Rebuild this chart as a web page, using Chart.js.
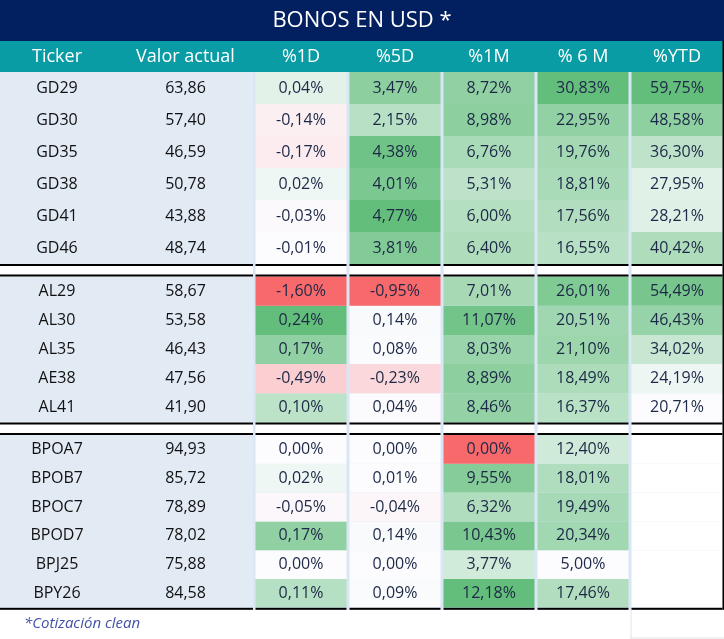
<!DOCTYPE html>
<html>
<head>
<meta charset="utf-8">
<script src="https://cdn.jsdelivr.net/npm/chart.js@4.4.1/dist/chart.umd.min.js"></script>
<style>
  html, body { margin: 0; padding: 0; background: #fff; }
</style>
</head>
<body>
<canvas id="bonds-table" width="724" height="639"></canvas>
<script>
const columns = ['%1D', '%5D', '%1M', '% 6 M', '%YTD'];
const groupSizes = [6, 5, 6];
const tickers = ['GD29', 'GD30', 'GD35', 'GD38', 'GD41', 'GD46',
                 'AL29', 'AL30', 'AL35', 'AE38', 'AL41',
                 'BPOA7', 'BPOB7', 'BPOC7', 'BPOD7', 'BPJ25', 'BPY26'];
const prices = [63.86, 57.40, 46.59, 50.78, 43.88, 48.74,
                58.67, 53.58, 46.43, 47.56, 41.90,
                94.93, 85.72, 78.89, 78.02, 75.88, 84.58];
const chg1D = [0.04, -0.14, -0.17, 0.02, -0.03, -0.01,
               -1.60, 0.24, 0.17, -0.49, 0.10,
               0.00, 0.02, -0.05, 0.17, 0.00, 0.11];
const chg5D = [3.47, 2.15, 4.38, 4.01, 4.77, 3.81,
               -0.95, 0.14, 0.08, -0.23, 0.04,
               0.00, 0.01, -0.04, 0.14, 0.00, 0.09];
const chg1M = [8.72, 8.98, 6.76, 5.31, 6.00, 6.40,
               7.01, 11.07, 8.03, 8.89, 8.46,
               0.00, 9.55, 6.32, 10.43, 3.77, 12.18];
const chg6M = [30.83, 22.95, 19.76, 18.81, 17.56, 16.55,
               26.01, 20.51, 21.10, 18.49, 16.37,
               12.40, 18.01, 19.49, 20.34, 5.00, 17.46];
const chgYTD = [59.75, 48.58, 36.30, 27.95, 28.21, 40.42,
                54.49, 46.43, 34.02, 24.19, 20.71,
                null, null, null, null, null, null];

const series = [chg1D, chg5D, chg1M, chg6M, chgYTD];

// layout (px)
const FONT = "'Open Sans', sans-serif";
const TITLE_H = 41;
const HEADER_H = 31;
const ROW_H = [32, 29.2, 28.8];
const GROUP_GAP = 12.5;
const TICKER_W = 117;
const LEFT_W = 254;
const NAVY = '#021f5f';
const TEAL = '#0a9ca4';
const LEFT_BG = '#e2eaf4';
const STRIP = '#d9e6f5';
const TXT = '#1c2846';

// colour scale like the spreadsheet: red - white - green (null mid = white at min)
const scaleMid = [0, 0, 0.5, null, null];
const WHITE = [252, 252, 255], RED = [248, 105, 107], GREEN = [99, 190, 123];

function cellColor(values, v, mid) {
  const nums = values.filter(x => x !== null);
  const min = Math.min(...nums), max = Math.max(...nums);
  if (mid === null) mid = min;
  let t, to;
  if (v < mid) { t = (mid - v) / (mid - min); to = RED; }
  else { t = max === mid ? 0 : (v - mid) / (max - mid); to = GREEN; }
  const c = WHITE.map((w, i) => Math.round(w + (to[i] - w) * t));
  return `rgb(${c[0]},${c[1]},${c[2]})`;
}

// row extents on the y scale
const rowSpans = [];
const groupSpans = [];
let yPos = 0;
groupSizes.forEach((n, g) => {
  if (g > 0) yPos += GROUP_GAP;
  const start = yPos;
  for (let i = 0; i < n; i++) {
    rowSpans.push([yPos, yPos + ROW_H[g]]);
    yPos += ROW_H[g];
  }
  groupSpans.push([start, yPos]);
});
const TOTAL = yPos;

const fmt = v => v.toFixed(2).replace('.', ',');

const datasets = tickers.map((t, r) => ({
  label: t,
  data: series.map(() => rowSpans[r]),
  backgroundColor: series.map((s, c) => s[r] === null ? '#ffffff' : cellColor(s, s[r], scaleMid[c])),
  grouped: false,
  barPercentage: 0.968,
  categoryPercentage: 1,
  borderWidth: 0,
  borderSkipped: false
}));

const tableDecor = {
  id: 'tableDecor',
  beforeDraw(chart) {
    const { ctx, chartArea: a, scales: { x, y } } = chart;
    ctx.save();
    ctx.fillStyle = '#ffffff';
    ctx.fillRect(0, 0, chart.width, chart.height);
    ctx.fillStyle = NAVY;
    ctx.fillRect(0, 0, chart.width, chart.titleBlock.bottom);
    ctx.fillStyle = TEAL;
    ctx.fillRect(0, x.top, chart.width, x.bottom - x.top);
    // light strips between columns
    ctx.fillStyle = STRIP;
    ctx.fillRect(a.left - 1, a.top, a.right - a.left + 1, y.getPixelForValue(TOTAL) + 2 - a.top);
    const half = x.width / columns.length * 0.968 / 2;
    // white cells inside the gaps between groups
    ctx.fillStyle = '#ffffff';
    for (let g = 1; g < groupSpans.length; g++) {
      const top = y.getPixelForValue(groupSpans[g - 1][1]);
      const bot = y.getPixelForValue(groupSpans[g][0]);
      columns.forEach((c, i) => {
        const cx = x.getPixelForValue(i);
        ctx.fillRect(cx - half, top, half * 2, bot - top);
      });
    }
    // ticker / value block
    ctx.fillStyle = LEFT_BG;
    groupSpans.forEach(([s, e]) => {
      const top = y.getPixelForValue(s), bot = y.getPixelForValue(e);
      ctx.fillRect(0, top, a.left - 1, bot - top);
    });
    ctx.restore();
  },
  afterDatasetsDraw(chart) {
    const { ctx, chartArea: a, scales: { x, y } } = chart;
    const half = x.width / columns.length * 0.968 / 2;
    ctx.save();
    // black rules around the groups
    ctx.fillStyle = '#000000';
    const rule = yy => {
      ctx.fillRect(0, yy, a.left - 1, 2);
      columns.forEach((c, i) => {
        const cx = x.getPixelForValue(i);
        ctx.fillRect(cx - half, yy, half * 2, 2);
      });
    };
    groupSpans.forEach(([s, e], g) => {
      if (g > 0) rule(y.getPixelForValue(s) - 2);
      rule(y.getPixelForValue(e));
    });
    ctx.fillRect(chart.width - 1.5, x.top, 1.5, y.getPixelForValue(TOTAL) + 2 - x.top);

    // header texts for left columns
    ctx.fillStyle = '#ffffff';
    ctx.font = `18px ${FONT}`;
    ctx.textAlign = 'center';
    ctx.textBaseline = 'middle';
    const hy = x.bottom - 4.5 - 10.8;
    ctx.fillText('Ticker', TICKER_W / 2 - 1.5, hy);
    ctx.fillText('Valor actual', (TICKER_W + a.left) / 2, hy);

    // body texts
    ctx.font = `16px ${FONT}`;
    tickers.forEach((t, r) => {
      const cy = y.getPixelForValue((rowSpans[r][0] + rowSpans[r][1]) / 2);
      ctx.fillStyle = '#111111';
      ctx.fillText(t, TICKER_W / 2 - 1.5, cy);
      ctx.fillText(fmt(prices[r]), (TICKER_W + a.left) / 2, cy);
      ctx.fillStyle = TXT;
      const meta = chart.getDatasetMeta(r);
      series.forEach((s, c) => {
        if (s[r] === null) return;
        const el = meta.data[c];
        ctx.fillText(fmt(s[r]) + '%', el.x, (el.y + el.base) / 2);
      });
    });

    // footnote
    ctx.font = `italic 15px ${FONT}`;
    ctx.fillStyle = '#4352a6';
    ctx.textAlign = 'left';
    ctx.fillText('*Cotización clean', 24, 624);

    // faint frame at bottom right
    ctx.fillStyle = '#e4e4e4';
    ctx.fillRect(x.getPixelForValue(4) - half - 1, y.getPixelForValue(TOTAL) + 2, 1, chart.height);
    ctx.fillRect(x.getPixelForValue(4) - half - 1, chart.height - 1.5, chart.width, 1);
    ctx.restore();
  }
};

Chart.defaults.font.family = FONT;

new Chart(document.getElementById('bonds-table').getContext('2d'), {
  type: 'bar',
  data: { labels: columns, datasets },
  options: {
    responsive: false,
    animation: false,
    layout: { padding: { left: 0, right: 0, top: 0, bottom: 639 - TITLE_H - HEADER_H - TOTAL } },
    plugins: {
      legend: { display: false },
      tooltip: { enabled: false },
      title: {
        display: true,
        text: 'BONOS EN USD *',
        color: '#ffffff',
        font: { size: 22, weight: 'normal', family: FONT },
        padding: { top: 8, bottom: TITLE_H - 8 - 26.4 }
      }
    },
    scales: {
      x: {
        type: 'category',
        position: 'top',
        grid: { display: false, drawTicks: false },
        border: { display: false },
        ticks: { color: '#ffffff', font: { size: 18 }, padding: 4.5 },
        afterFit: s => { s.height = HEADER_H; }
      },
      y: {
        type: 'linear',
        min: 0,
        max: TOTAL,
        reverse: true,
        grid: { display: false, drawTicks: false },
        border: { display: false },
        ticks: { display: false },
        afterFit: s => { s.width = LEFT_W; }
      }
    }
  },
  plugins: [tableDecor]
});
</script>
</body>
</html>
